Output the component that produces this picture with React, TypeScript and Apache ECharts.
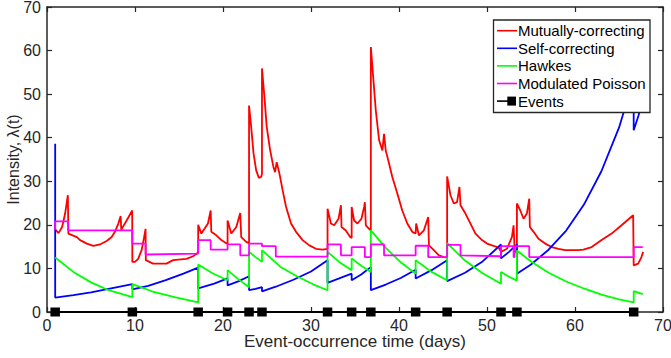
import React, { useEffect, useRef } from "react";
import * as echarts from "echarts";

const FONT = '"Liberation Sans", Arial, Helvetica, sans-serif';

const xTicks = [0, 10, 20, 30, 40, 50, 60, 70];
const yTicks = [0, 10, 20, 30, 40, 50, 60, 70];

const eventTimes = [0.93, 9.7, 17.18, 20.52, 22.96, 24.43, 31.88, 34.62, 36.8, 41.89, 45.47, 51.59, 53.4, 66.67];

const mutuallyCorrecting: [number, number][] = [
  [0.93, 19.0], [1.3, 18.1], [1.72, 19.5], [2.06, 22.6], [2.37, 26.8], [2.43, 18.0],
  [3.39, 17.2], [3.76, 16.5], [4.52, 15.7], [5.27, 15.2], [6.02, 15.5], [6.78, 16.3],
  [7.35, 17.2], [7.72, 18.4], [8.1, 20.3], [8.37, 22.0], [8.44, 18.9], [9.05, 21.0],
  [9.68, 23.3], [9.7, 11.5], [9.99, 11.5], [10.36, 12.2], [10.75, 14.2], [11.04, 17.2],
  [11.2, 19.1], [11.23, 11.9], [12.06, 11.1], [13.58, 11.1], [14.33, 11.9], [15.84, 12.2],
  [16.59, 12.8], [17.04, 13.4], [17.18, 13.8], [17.18, 20.0], [17.54, 18.0], [18.29, 20.3],
  [18.6, 23.3], [18.67, 18.4], [19.24, 17.6], [19.81, 16.5], [20.37, 15.8], [20.52, 15.6],
  [20.52, 21.0], [20.94, 18.0], [21.51, 19.5], [21.96, 22.7], [22.07, 17.2], [22.64, 16.1],
  [22.96, 15.8], [22.96, 47.4], [23.2, 42.5], [23.47, 36.4], [23.77, 32.5], [24.07, 30.8],
  [24.34, 31.0], [24.43, 31.8], [24.43, 55.9], [24.71, 49.3], [24.97, 42.5], [25.36, 37.1],
  [25.73, 33.3], [25.92, 32.1], [26.1, 34.4], [26.41, 31.8], [26.78, 27.9], [27.17, 24.1],
  [27.73, 20.3], [28.3, 18.4], [29.05, 16.5], [29.81, 15.3], [30.57, 14.5], [31.31, 14.3],
  [31.88, 14.5], [31.88, 23.7], [32.26, 20.3], [32.64, 19.9], [33.13, 21.4], [33.4, 24.5],
  [33.47, 19.5], [33.96, 18.7], [34.45, 17.2], [34.62, 17.0], [34.62, 24.1], [34.9, 21.0],
  [35.28, 20.3], [35.73, 21.4], [36.04, 24.1], [36.12, 25.2], [36.23, 19.9], [36.6, 19.1],
  [36.8, 18.75], [36.8, 60.8], [36.98, 56.2], [37.36, 46.3], [37.74, 39.4], [38.11, 37.1],
  [38.3, 40.9], [38.49, 37.1], [38.87, 34.1], [39.24, 31.0], [39.81, 27.2], [40.37, 23.3],
  [40.94, 20.3], [41.51, 18.4], [41.89, 18.0], [41.95, 20.3], [42.26, 17.6], [42.83, 18.75],
  [43.32, 21.8], [43.4, 15.3], [43.96, 14.2], [44.53, 13.0], [45.1, 12.6], [45.47, 12.5],
  [45.47, 31.1], [45.85, 26.8], [46.23, 24.9], [46.6, 25.2], [46.87, 28.7], [46.99, 24.5],
  [47.55, 22.6], [48.12, 20.3], [48.69, 18.0], [49.43, 16.5], [50.0, 15.7], [50.57, 15.3],
  [51.32, 14.8], [51.59, 13.8], [52.27, 14.5], [52.83, 17.2], [53.02, 19.9], [53.14, 14.2],
  [53.4, 13.4], [53.4, 24.9], [53.78, 23.3], [54.16, 21.4], [54.53, 22.6], [54.8, 26.0],
  [54.87, 19.5], [55.29, 18.4], [55.85, 16.8], [56.61, 15.7], [57.36, 14.9], [58.12, 14.5],
  [58.88, 14.2], [59.63, 14.2], [60.39, 14.2], [60.95, 14.3], [61.89, 14.9], [63.02, 16.5],
  [64.16, 18.0], [65.29, 19.9], [66.61, 22.2], [66.67, 10.7], [67.18, 11.1], [67.55, 12.6],
  [67.74, 13.8],
];

const selfCorrecting: [number, number][] = [
  [0.93, 38.6], [0.93, 3.3], [3, 3.85], [5, 4.5], [7, 5.3], [9.7, 6.4], [9.7, 5.2],
  [11.5, 6.0], [13.5, 7.3], [15.5, 8.8], [17.18, 10.2], [17.18, 5.4], [19, 6.5],
  [20.52, 7.7], [20.52, 6.1], [21.8, 7.1], [22.96, 8.2], [22.96, 5.0], [23.7, 5.3],
  [24.43, 5.7], [24.43, 4.75], [26, 5.8], [28, 7.4], [30, 9.3], [31.88, 11.9], [31.88, 6.7],
  [33.2, 7.7], [34.62, 8.8], [34.62, 7.3], [35.7, 8.6], [36.8, 10.3], [36.8, 5.0],
  [38.5, 6.3], [40.2, 7.8], [41.89, 9.7], [41.89, 7.7], [43.7, 9.6], [45.47, 11.9],
  [45.47, 7.1], [47.5, 9.0], [49.5, 11.6], [51.59, 15.5], [51.59, 12.3], [52.5, 13.8],
  [53.4, 15.5], [53.4, 8.8], [55, 10.9], [57, 14.3], [59, 18.7], [61, 24.6], [63, 32.3],
  [65, 42.3], [66.67, 53.5], [66.67, 41.7], [67.2, 45.0], [67.7, 48.5],
];

const hawkes: [number, number][] = [
  [0.93, 12.5], [3, 9.2], [5, 6.8], [7, 5.0], [9.7, 3.4], [9.7, 6.4], [12, 4.7],
  [14.5, 3.4], [17.18, 2.2], [17.18, 10.9], [18.8, 8.9], [20.52, 7.3], [20.52, 9.6],
  [21.7, 7.6], [22.96, 5.7], [22.96, 13.8], [23.7, 12.6], [24.43, 11.5], [24.43, 14.2],
  [26.5, 10.4], [28.5, 8.1], [30.3, 6.3], [31.88, 5.0], [31.88, 13.8], [33.2, 11.5],
  [34.62, 9.6], [34.62, 12.3], [35.7, 10.6], [36.8, 9.2], [36.8, 18.75], [38.5, 14.7],
  [40.2, 11.4], [41.89, 8.8], [41.89, 11.9], [43.7, 9.2], [45.47, 7.3], [45.47, 15.8],
  [47.5, 11.8], [49.5, 8.9], [51.59, 6.5], [51.59, 9.2], [52.5, 8.1], [53.4, 7.2],
  [53.4, 14.1], [55, 11.6], [57, 9.0], [59, 7.0], [61, 5.4], [63, 4.0], [65, 2.9],
  [66.67, 2.2], [66.67, 4.8], [67.7, 4.1],
];

const modulatedPoisson: [number, number][] = [
  [0.93, 18.9], [0.93, 20.8], [2.4, 20.8], [2.4, 18.75], [9.7, 18.75], [9.7, 15.7],
  [11.2, 15.7], [11.2, 13.2], [17.18, 13.4], [17.18, 16.5], [18.6, 16.5], [18.6, 14.3],
  [20.52, 14.3], [20.52, 15.5], [21.96, 15.5], [21.96, 13.0], [22.96, 13.0], [22.96, 15.7],
  [24.43, 15.7], [24.43, 15.1], [26.0, 15.1], [26.0, 12.7], [31.88, 12.7], [31.88, 15.5],
  [33.4, 15.5], [33.4, 13.0], [34.62, 13.0], [34.62, 14.9], [36.12, 14.9], [36.12, 12.6],
  [36.8, 12.6], [36.8, 15.5], [38.3, 15.5], [38.3, 13.0], [41.89, 13.0], [41.89, 15.2],
  [43.32, 15.2], [43.32, 12.6], [45.47, 12.6], [45.47, 15.4], [46.99, 15.4], [46.99, 13.0],
  [51.59, 12.8], [51.59, 15.1], [53.02, 15.1], [53.02, 12.6], [53.14, 12.6], [53.14, 15.1],
  [54.8, 15.1], [54.8, 12.6], [66.67, 12.6], [66.67, 14.9], [67.7, 14.9],
];

const seriesNames = ["Mutually-correcting", "Self-correcting", "Hawkes", "Modulated Poisson", "Events"];
const seriesColors = ["#ff0000", "#0000ff", "#00ff00", "#ff00ff", "#000000"];

const AXIS_COLOR = "#262626";

export default function App() {
  const ref = useRef<HTMLDivElement>(null);
  useEffect(() => {
    document.body.style.margin = "0";
    if (!ref.current) return;
    const chart = echarts.init(ref.current, undefined, { renderer: "svg" });
    const lineData = [mutuallyCorrecting, selfCorrecting, hawkes, modulatedPoisson];
    const axisCommon = {
      type: "value" as const,
      min: 0,
      max: 70,
      interval: 10,
      splitLine: { show: false },
      axisLine: { show: true, onZero: false, lineStyle: { color: AXIS_COLOR, width: 1.5 } },
      axisTick: { show: true, inside: true, length: 5, lineStyle: { color: AXIS_COLOR, width: 1.2 } },
    };

    // legend drawn as graphic elements (box, sample lines and real texts)
    const LX = 493, LY = 19.5, LW = 156.5, LH = 92.5;
    const rowY = (i: number) => 30.7 + i * 17.6;
    const legendGraphic: any[] = [
      {
        type: "rect",
        shape: { x: LX + 0.5, y: LY + 0.5, width: LW, height: LH },
        style: { fill: "#ffffff", stroke: AXIS_COLOR, lineWidth: 1.3 },
        z: 100,
      },
    ];
    seriesNames.forEach((name, i) => {
      const y = rowY(i);
      if (i < 4) {
        legendGraphic.push({
          type: "line",
          shape: { x1: LX + 4, y1: y, x2: LX + 24, y2: y },
          style: { stroke: seriesColors[i], lineWidth: 1.6 },
          z: 101,
        });
      } else {
        legendGraphic.push({
          type: "line",
          shape: { x1: LX + 4, y1: y, x2: LX + 16, y2: y },
          style: { stroke: "#000", lineWidth: 1.6 },
          z: 101,
        });
        legendGraphic.push({
          type: "rect",
          shape: { x: LX + 14.3, y: y - 4.5, width: 8.7, height: 9 },
          style: { fill: "#000" },
          z: 101,
        });
      }
      legendGraphic.push({
        type: "text",
        x: LX + 25,
        y,
        style: {
          text: name,
          fill: "#000",
          font: `15px ${FONT}`,
          verticalAlign: "middle",
          align: "left",
        },
        z: 101,
      });
    });

    chart.setOption({
      animation: false,
      backgroundColor: "#ffffff",
      textStyle: { fontFamily: FONT },
      grid: { left: 47, right: 8, top: 7, bottom: 46, containLabel: false, outerBoundsMode: "none" },
      xAxis: [
        {
          ...axisCommon,
          position: "bottom",
          name: "Event-occurrence time (days)",
          nameLocation: "middle",
          nameGap: 21,
          nameMoveOverlap: false,
          nameTextStyle: { fontSize: 17, color: AXIS_COLOR, fontFamily: FONT, verticalAlign: "top" },
          axisLabel: {
            show: true,
            margin: 5,
            fontSize: 16,
            color: AXIS_COLOR,
            fontFamily: FONT,
            formatter: (v: number) => (xTicks.includes(v) ? String(v) : ""),
          },
        },
        { ...axisCommon, position: "top", axisLabel: { show: false } },
      ],
      yAxis: [
        {
          ...axisCommon,
          position: "left",
          name: "Intensity, λ(t)",
          nameLocation: "middle",
          nameGap: 26,
          nameRotate: 90,
          nameMoveOverlap: false,
          nameTextStyle: { fontSize: 16, color: AXIS_COLOR, fontFamily: FONT },
          axisLabel: {
            show: true,
            margin: 6,
            fontSize: 16,
            color: AXIS_COLOR,
            fontFamily: FONT,
            formatter: (v: number) => (yTicks.includes(v) ? String(v) : ""),
          },
        },
        { ...axisCommon, position: "right", axisLabel: { show: false } },
      ],
      graphic: legendGraphic,
      series: [
        ...lineData.map((d, i) => ({
          name: seriesNames[i],
          type: "line",
          xAxisIndex: 0,
          yAxisIndex: 0,
          data: d,
          showSymbol: false,
          symbol: "none",
          color: seriesColors[i],
          lineStyle: { color: seriesColors[i], width: 1.8 },
          z: 2 + i,
        })),
        {
          name: seriesNames[4],
          type: "line",
          xAxisIndex: 0,
          yAxisIndex: 0,
          data: eventTimes.map((t) => [t, 0]),
          symbol: "rect",
          symbolSize: [9.5, 9],
          showSymbol: true,
          clip: false,
          color: "#000",
          itemStyle: { color: "#000" },
          lineStyle: { color: "#000", width: 1.8 },
          z: 10,
        },
      ],
    });
    return () => chart.dispose();
  }, []);
  return <div ref={ref} style={{ width: 671, height: 358 }} />;
}
